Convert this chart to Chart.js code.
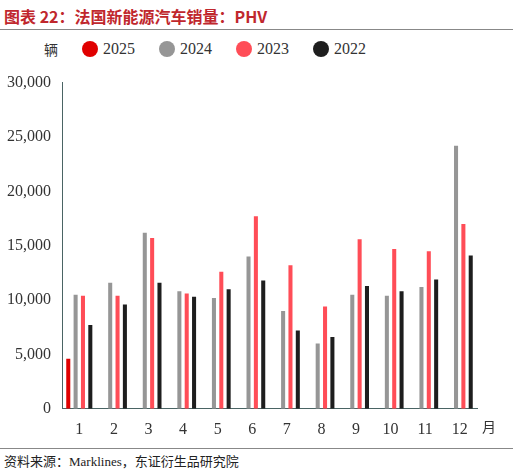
<!DOCTYPE html>
<html><head><meta charset="utf-8">
<script src="https://cdn.jsdelivr.net/npm/chart.js@4"></script>
<style>
body{margin:0;width:517px;height:475px;background:#fff;position:relative;overflow:hidden}
.title{position:absolute;left:4px;top:4px;font-size:16px;font-weight:bold;color:#c0272d;font-family:"Noto Sans CJK SC"}
.line{position:absolute;left:0;width:513px;border-top:1px solid #888}
.src{position:absolute;left:4px;top:451px;font-size:13px;color:#222;font-family:"Liberation Serif","Noto Sans CJK SC"}
.legend{position:absolute;left:44px;top:39px;font-family:"Liberation Serif";font-size:16px;color:#333;display:flex;align-items:center}
.legend .u{font-family:"Noto Sans CJK SC";font-size:14px;margin-right:24px}
.legend span.i{display:flex;align-items:center;margin-right:24px}
.legend b{display:inline-block;width:16px;height:16px;border-radius:50%;margin-right:5px}
#c{position:absolute;left:0;top:70px}
</style></head><body>
<div class="title">图表 22：法国新能源汽车销量：PHV</div>
<div class="line" style="top:29px"></div>
<div class="line" style="top:448px"></div>
<div class="src">资料来源：Marklines，东证衍生品研究院</div>
<div class="legend" id="lg"><span class="u">辆</span></div>
<canvas id="c" width="517" height="376"></canvas>
<script>
const months = ['1','2','3','4','5','6','7','8','9','10','11','12'];
const s2025 = [4600,null,null,null,null,null,null,null,null,null,null,null];
const s2024 = [10500,11600,16200,10800,10200,14000,9000,6000,10500,10400,11200,24200];
const s2023 = [10400,10400,15700,10600,12600,17700,13200,9400,15600,14700,14500,17000];
const s2022 = [7700,9600,11600,10300,11000,11800,7200,6600,11300,10800,11900,14100];
const yTicks = [0,5000,10000,15000,20000,25000,30000];

const sets = [
  {label:'2025',data:s2025,backgroundColor:'#e00000'},
  {label:'2024',data:s2024,backgroundColor:'#969696'},
  {label:'2023',data:s2023,backgroundColor:'#ff4d57'},
  {label:'2022',data:s2022,backgroundColor:'#1e1e1e'}];
document.getElementById('lg').innerHTML += sets.map(d=>`<span class="i"><b style="background:${d.backgroundColor}"></b>${d.label}</span>`).join('');

const unitPlugin = {id:'unit',afterDraw(c){
  const x=c.ctx; x.save(); x.fillStyle='#333'; x.font='14px "Noto Sans CJK SC"';
  x.textBaseline='top';
  x.fillText('月',482,c.scales.x.bottom-22);
  x.restore();}};

new Chart(document.getElementById('c'),{type:'bar',
  data:{labels:months,datasets:sets},
  options:{responsive:false,animation:false,devicePixelRatio:1,
    layout:{padding:{left:4,right:40,top:8,bottom:4}},
    datasets:{bar:{barPercentage:0.55,categoryPercentage:0.85}},
    plugins:{legend:{display:false},tooltip:{enabled:false}},
    scales:{
      x:{grid:{display:false},border:{color:'#4a6464'},ticks:{color:'#333',maxRotation:0,autoSkip:false,font:{family:'Liberation Serif',size:16}}},
      y:{min:0,max:30000,afterBuildTicks:a=>{a.ticks=yTicks.map(v=>({value:v}))},
        grid:{display:false},border:{color:'#4a6464'},
        ticks:{color:'#333',font:{family:'Liberation Serif',size:16},callback:v=>v.toLocaleString('en-US')}}}}
  ,plugins:[unitPlugin]});
</script>
</body></html>
